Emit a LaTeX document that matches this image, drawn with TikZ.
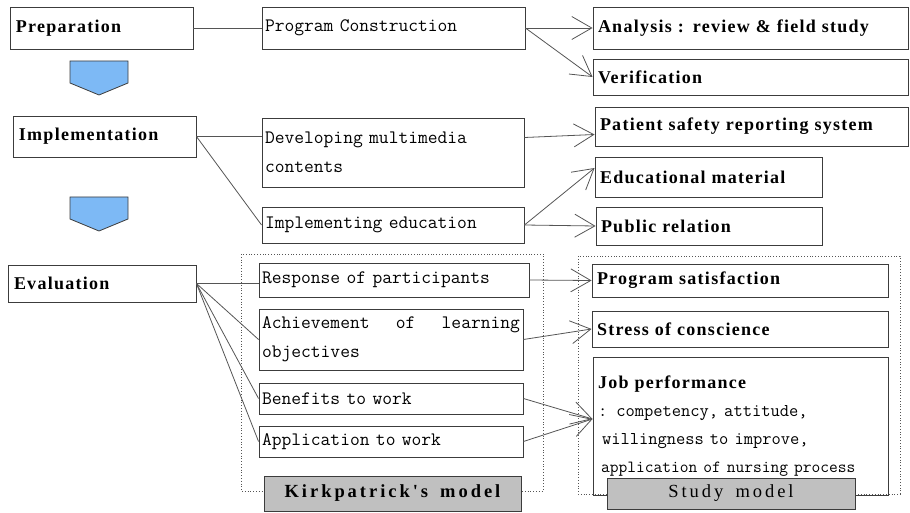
\documentclass[tikz,border=0pt]{standalone}
\usepackage{fontspec}
\setmainfont{Liberation Serif}
\newfontfamily\monofont[WordSpace=1.3]{Latin Modern Mono}
\newfontfamily\headfont[LetterSpace=7,WordSpace=3]{Liberation Serif}
\newfontfamily\modelfont[LetterSpace=16,WordSpace=1.6]{Liberation Serif}
\usetikzlibrary{arrows.meta}

\definecolor{boxline}{RGB}{60,60,60}
\definecolor{linkgray}{RGB}{85,85,85}
\definecolor{arrowblue}{RGB}{125,185,245}
\definecolor{labelgray}{RGB}{192,192,192}

\tikzset{
  stagebox/.style={draw=boxline, line width=0.9pt, inner xsep=6pt, inner ysep=0pt, align=left,
    font=\headfont\bfseries\fontsize{18}{28}\selectfont},
  itembox/.style={draw=boxline, line width=0.9pt, inner xsep=3pt, inner ysep=0pt, align=left,
    font=\monofont\fontsize{19}{29}\selectfont},
  resultbox/.style={stagebox, inner xsep=5pt},
  modelbox/.style={draw=boxline, fill=labelgray, line width=0.9pt, inner sep=0pt, align=center,
    font=\modelfont\fontsize{18.5}{20}\selectfont},
  phasearrow/.style={draw=boxline, fill=arrowblue, line width=0.8pt},
  link/.style={draw=linkgray, line width=0.8pt},
  frame/.style={draw=linkgray, dotted, line width=0.8pt}
}

\begin{document}
\begin{tikzpicture}[x=1pt,y=-1pt,>={Straight Barb[length=20pt,width=23pt]}]
        \useasboundingbox (0,0) rectangle (910,513);
        % dotted frames go first, the model labels sit on top of them
        \draw[frame](241,254) rectangle (543,491);
        \draw[frame](578,256) rectangle (900,494);

        % phases
        \node[stagebox,text width=171pt,minimum height=42pt](prep) at (101.5,28) {Preparation};
        \node[stagebox,text width=171pt,minimum height=41pt](impl) at (104.5,136.5) {Implementation};
        \node[stagebox,text width=176pt,minimum height=37pt](eval) at (102,283.5) {Evaluation};
        \foreach \y in {61,197}
            \draw[phasearrow](70,\y)--++(58,0)--++(0,22)--++(-29,12)--++(-29,-12)--cycle;

        % contents
        \node[itembox,text width=257pt,minimum height=42pt](pc) at (393.5,28) {Program Construction};
        \node[itembox,text width=256pt,minimum height=69pt](dev) at (393,152.5) {Developing multimedia\\contents};
        \node[itembox,text width=256pt,minimum height=36pt](ied) at (393,225) {Implementing education};
        \node[itembox,text width=264pt,minimum height=34pt](resp) at (394,280) {Response of participants};
        \node[itembox,text width=258pt,minimum height=61pt](ach) at (391,339.5) {Achievement\hfill of\hfill learning\\objectives};
        \node[itembox,text width=258pt,minimum height=31pt](ben) at (391,398.5) {Benefits to work};
        \node[itembox,text width=258pt,minimum height=31pt](app) at (391,441.5) {Application to work};

        % outcomes
        \node[resultbox,text width=305pt,minimum height=42pt](ana) at (750.5,28) {Analysis : review \& field study};
        \node[resultbox,text width=305pt,minimum height=36pt](ver) at (750.5,77) {Verification};
        \node[resultbox,text width=303pt,minimum height=39pt](pat) at (751.5,126.5) {Patient safety reporting system};
        \node[resultbox,text width=217pt,minimum height=40pt](edu) at (708.5,177) {Educational material};
        \node[resultbox,text width=216pt,minimum height=38pt](pub) at (709,226) {Public relation};
        \node[resultbox,text width=286pt,minimum height=33pt](sat) at (740,280.5) {Program satisfaction};
        \node[resultbox,text width=286pt,minimum height=36pt](str) at (740,329) {Stress of conscience};
        \node[itembox,inner xsep=5pt,text width=285pt,minimum height=138pt,font=\monofont\fontsize{18}{28}\selectfont](job) at (740.5,426)
            {{\headfont\bfseries\fontsize{18}{28}\selectfont Job performance}\\
             : competency, attitude,\\
             \hspace*{4pt}willingness to improve,\\
             \hspace*{3pt}{\fontsize{17}{28}\selectfont application of nursing process}};

        \node[modelbox,minimum width=257pt,minimum height=35pt,font=\modelfont\bfseries\fontsize{18.5}{20}\selectfont](kirk) at (392.5,493.5) {Kirkpatrick's model};
        \node[modelbox,minimum width=248pt,minimum height=31pt](study) at (731,493.5) {Study model};

        % links
        \draw[link](prep)--(pc);
        \draw[link,->](pc.east)--(ana.west);
        \draw[link,->](pc.east)--(ver.west);
        \draw[link](impl.east)--(impl.east-|dev.west);
        \draw[link](impl.east)--(ied.west);
        \draw[link,->]([yshift=15pt]dev.east)--([yshift=-8pt]pat.west);
        \draw[link,->](ied.east)--([yshift=9pt]edu.west);
        \draw[link,->](ied.east)--(pub.west);
        \draw[link](eval.east)--(eval.east-|resp.west);
        \foreach \n in {ach,ben,app}
            \draw[link](eval.east)--(\n.west);
        \draw[link,->](resp.east)--(sat.west);
        \draw[link,->](ach.east)--(str.west);
        \coordinate(jobin) at ([yshift=7pt]job.west);
        \foreach \n in {ben,app}
            \draw[link,->](\n.east)--(jobin);
    \end{tikzpicture}
\end{document}
